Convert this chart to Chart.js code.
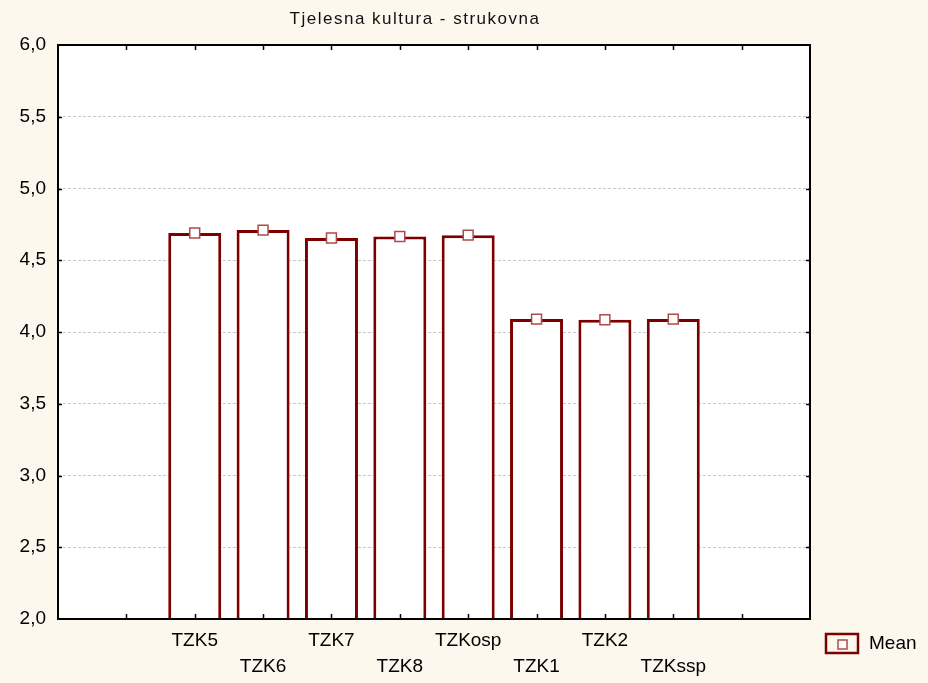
<!DOCTYPE html>
<html>
<head>
<meta charset="utf-8">
<script src="https://cdn.jsdelivr.net/npm/chart.js@4/dist/chart.umd.min.js"></script>
<style>
    html, body { margin: 0; padding: 0; background: #fdf8ee; }
    #chart-container { width: 928px; height: 683px; }
</style>
</head>
<body>
<div id="chart-container"><canvas id="myChart"></canvas></div>
<script>
var chartTitle = 'Tjelesna kultura - strukovna';
var categories = ['TZK5', 'TZK6', 'TZK7', 'TZK8', 'TZKosp', 'TZK1', 'TZK2', 'TZKssp'];
var means = [4.69, 4.71, 4.655, 4.665, 4.675, 4.09, 4.085, 4.09];
var seriesName = 'Mean';
var yMin = 2.0, yMax = 6.0, yStep = 0.5;

// two empty slots on each side of the bars, like the original
var labels = ['', ''].concat(categories, ['', '']);
var values = [null, null].concat(means, [null, null]);

var fontFamily = '"Liberation Sans", Arial, sans-serif';
var barRed = '#7d0000';
var markerRed = '#b04a4a';

var framePlugin = {
    id: 'frame',
    beforeDraw: function (chart) {
        var ctx = chart.ctx, a = chart.chartArea;
        ctx.save();
        ctx.fillStyle = '#fdf8ee';
        ctx.fillRect(0, 0, chart.width, chart.height);
        ctx.fillStyle = '#ffffff';
        ctx.fillRect(a.left, a.top, a.right - a.left, a.bottom - a.top);
        ctx.restore();
    },
    afterDraw: function (chart) {
        var ctx = chart.ctx, a = chart.chartArea;
        var xs = chart.scales.x, ys = chart.scales.y;
        ctx.save();
        ctx.strokeStyle = '#000';
        ctx.lineWidth = 2;
        ctx.strokeRect(a.left, a.top, a.right - a.left, a.bottom - a.top);
        ctx.lineWidth = 1.5;
        ctx.beginPath();
        for (var i = 1; i < labels.length - 1; i++) {
            var px = Math.round(xs.getPixelForTick(i)) + 0.5;
            ctx.moveTo(px, a.bottom); ctx.lineTo(px, a.bottom - 5);
            ctx.moveTo(px, a.top); ctx.lineTo(px, a.top + 5);
        }
        for (var v = yMin + yStep; v < yMax; v += yStep) {
            var py = Math.round(ys.getPixelForValue(v)) + 0.5;
            ctx.moveTo(a.left, py); ctx.lineTo(a.left + 4, py);
            ctx.moveTo(a.right, py); ctx.lineTo(a.right - 4, py);
        }
        ctx.stroke();

        // title
        ctx.fillStyle = '#111';
        ctx.font = '17px ' + fontFamily;
        ctx.letterSpacing = '1.5px';
        ctx.textAlign = 'center';
        ctx.textBaseline = 'middle';
        ctx.fillText(chartTitle, 415, 19);
        ctx.letterSpacing = '0px';

        // legend
        ctx.strokeStyle = barRed;
        ctx.lineWidth = 2.5;
        ctx.strokeRect(826, 634, 32, 19);
        ctx.strokeStyle = markerRed;
        ctx.lineWidth = 1.5;
        ctx.fillStyle = '#fff';
        ctx.fillRect(838, 640, 9, 9);
        ctx.strokeRect(838, 640, 9, 9);
        ctx.fillStyle = '#000';
        ctx.font = '19px ' + fontFamily;
        ctx.textAlign = 'left';
        ctx.fillText(seriesName, 869, 644);
        ctx.restore();
    }
};

var ctx = document.getElementById('myChart');
var myChart = new Chart(ctx, {
    type: 'bar',
    data: {
        labels: labels,
        datasets: [{
            type: 'line',
            label: seriesName,
            data: values,
            showLine: false,
            pointStyle: 'rect',
            pointRadius: 7,
            pointBorderWidth: 1.5,
            pointBorderColor: markerRed,
            pointBackgroundColor: '#ffffff',
            order: 1
        }, {
            label: seriesName,
            data: values,
            backgroundColor: '#ffffff',
            borderColor: barRed,
            borderWidth: 3,
            borderSkipped: false,
            barPercentage: 0.775,
            categoryPercentage: 1,
            order: 2
        }]
    },
    options: {
        responsive: true,
        maintainAspectRatio: false,
        animation: false,
        layout: {
            padding: { top: 45, right: 118, left: 0, bottom: 0 }
        },
        plugins: {
            legend: { display: false },
            title: { display: false },
            tooltip: { enabled: false }
        },
        scales: {
            x: {
                offset: false,
                grid: { display: false, drawTicks: false, offset: false },
                border: { display: false },
                afterFit: function (scale) { scale.height = 64; },
                ticks: {
                    autoSkip: false,
                    maxRotation: 0,
                    padding: 9,
                    color: '#000',
                    font: { family: fontFamily, size: 19, lineHeight: '26px' },
                    callback: function (value, index) {
                        var lab = labels[index];
                        if (!lab) return '';
                        return index % 2 === 0 ? [lab] : ['', lab];
                    }
                }
            },
            y: {
                min: yMin,
                max: yMax,
                afterFit: function (scale) { scale.width = 58; },
                grid: { color: '#c8c8c8', lineWidth: 1, drawTicks: false },
                border: { display: false, dash: [3, 2] },
                ticks: {
                    stepSize: yStep,
                    padding: 12,
                    color: '#000',
                    font: { family: fontFamily, size: 19 },
                    callback: function (value) {
                        return value.toFixed(1).replace('.', ',');
                    }
                }
            }
        }
    },
    plugins: [framePlugin]
});
</script>
</body>
</html>
